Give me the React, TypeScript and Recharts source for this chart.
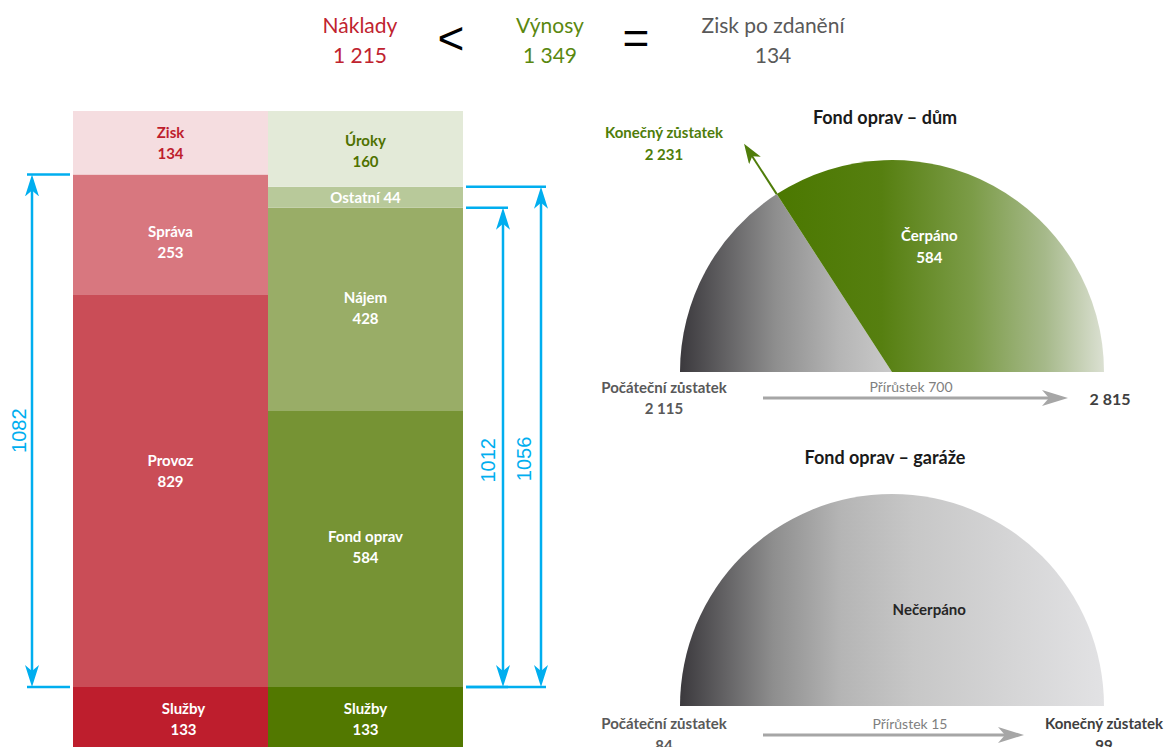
import { Bar, BarChart, Cell, LabelList, Pie, PieChart, ReferenceArea, XAxis, YAxis } from 'recharts';

const FONT = 'Lato, "Noto Sans", sans-serif';
const DIM_FONT = '"Liberation Sans", Arial, sans-serif';
const CYAN = '#00aeef';
const RAD = Math.PI / 180;

// header
const headerNames = ['Náklady', 'Výnosy', 'Zisk po zdanění'];
const headerValues = [1215, 1349, 134];
const headerColors = ['#c0232f', '#5a880f', '#595959'];
const headerSigns = ['<', '='];

// left: costs vs revenues, bottom segment first
const columns = ['Náklady', 'Výnosy'];
const costNames = ['Služby', 'Provoz', 'Správa', 'Zisk'];
const costValues = [133, 829, 253, 134];
const revenueNames = ['Služby', 'Fond oprav', 'Nájem', 'Ostatní', 'Úroky'];
const revenueValues = [133, 584, 428, 44, 160];

const costFills = ['#be1e2d', '#ca4d57', '#d8777f', '#f5dde0'];
const costInk = ['#fff', '#fff', '#fff', '#be1e2d'];
const revenueFills = ['#527800', '#769334', '#99ad67', '#b8c99a', '#e3ead8'];
const revenueInk = ['#fff', '#fff', '#fff', '#fff', '#4f7200'];
// label nudges (px) to sit where the original placed them
const costLabelDx = [13, 0, 0, 0];
const costLabelDy = [0, -20, 7, 0];
const revenueLabelDx = [0, 0, 0, 0, 0];
const revenueLabelDy = [0, -2, -2, 0, 2];

// dimension lines: column, first and last segment spanned
const dimColumn = [0, 1, 1];
const dimFirst = [1, 1, 1];
const dimLast = [2, 2, 3];

// gauges
const houseSliceNames = ['Zůstatek', 'Čerpáno'];
const houseSliceValues = [271, 584]; // grey wedge
const houseStart = 2115;
const houseGrowth = 700;
const houseEnd = 2231;
const houseTotal = 2815;

const garageSliceNames = ['Nečerpáno'];
const garageSliceValues = [99];
const garageStart = 84;
const garageGrowth = 15;
const garageEnd = 99;

const segNames = [costNames, revenueNames];
const segValues = [costValues, revenueValues];
const segFills = [costFills, revenueFills];
const segInk = [costInk, revenueInk];
const segDx = [costLabelDx, revenueLabelDx];
const segDy = [costLabelDy, revenueLabelDy];
const segCount = Math.max(...segValues.map(v => v.length));
const sum = (a: number[]) => a.reduce((s, v) => s + v, 0);
const total = Math.max(...segValues.map(sum));

const barData = columns.map((column, c) => {
  const row: Record<string, string | number> = { column };
  for (let i = 0; i < segCount; i++) row[`s${i}`] = segValues[c][i] ?? 0;
  return row;
});

const fmt = (n: number) => String(n).replace(/\B(?=(\d{3})+(?!\d))/g, ' ');

function Header() {
  const nameX = [360, 550, 773];
  const signX = [451, 636];
  return (
    <svg width={1171} height={80} style={{ position: 'absolute', left: 0, top: 0 }}>
      {headerNames.map((n, i) => (
        <g key={n} fill={headerColors[i]} fontFamily={FONT} fontSize={21} textAnchor="middle" dominantBaseline="central">
          <text x={nameX[i]} y={24}>{n}</text>
          <text x={nameX[i]} y={54}>{fmt(headerValues[i])}</text>
        </g>
      ))}
      {headerSigns.map((s, i) => (
        <text key={s} x={signX[i]} y={38} fontFamily={DIM_FONT} fontSize={46} textAnchor="middle" dominantBaseline="central" fill="#000">
          {s}
        </text>
      ))}
    </svg>
  );
}

// the LabelList reads the column name, so the label knows which stack it belongs to
function segmentLabel(props: any, seg: number) {
  const { x, y, width, height, value: column } = props;
  const c = columns.indexOf(String(column));
  const value = segValues[c]?.[seg];
  if (c < 0 || value === undefined || !height) return null;
  const name = segNames[c][seg];
  const cx = Number(x) + Number(width) / 2 + segDx[c][seg];
  const cy = Number(y) + Number(height) / 2 + segDy[c][seg];
  const common = {
    x: cx,
    textAnchor: 'middle' as const,
    dominantBaseline: 'central' as const,
    fill: segInk[c][seg],
    fontFamily: FONT,
    fontWeight: 700,
    fontSize: 15,
  };
  if (Math.abs(Number(height)) < 30) {
    return <text {...common} y={cy}>{`${name} ${value}`}</text>;
  }
  return (
    <g>
      <text {...common} y={cy - 10.5}>{name}</text>
      <text {...common} y={cy + 10.5}>{value}</text>
    </g>
  );
}

function DimensionShape(props: any) {
  const { x, y, width, height, k } = props;
  const gap = [41, 40, 78];
  const textGap = [13, 15, 17];
  const textShift = [0, 13, 22];
  const left = dimColumn[k] === 0;
  const dir = left ? -1 : 1;
  const edge = left ? x : x + width;
  const lineX = edge + dir * gap[k];
  const top = y;
  const bottom = y + height;
  const id = `dim-arrow-${k}`;
  const tx = lineX - textGap[k];
  const ty = (top + bottom) / 2 + textShift[k];
  const label = sum(segValues[dimColumn[k]].slice(dimFirst[k], dimLast[k] + 1));
  return (
    <g>
      <defs>
        <marker id={id} viewBox="0 0 22 14" refX={16} refY={7} markerWidth={22} markerHeight={14} markerUnits="userSpaceOnUse" orient="auto-start-reverse">
          <path d="M0,0 L22,7 L0,14 L6,7 Z" fill={CYAN} />
        </marker>
      </defs>
      <line x1={edge + dir * 3} x2={lineX + dir * 5} y1={top} y2={top} stroke={CYAN} strokeWidth={2.5} />
      <line x1={edge + dir * 3} x2={lineX + dir * 5} y1={bottom} y2={bottom} stroke={CYAN} strokeWidth={2.5} />
      <line x1={lineX} x2={lineX} y1={top + 6} y2={bottom - 6} stroke={CYAN} strokeWidth={2.5} markerStart={`url(#${id})`} markerEnd={`url(#${id})`} />
      <text x={tx} y={ty} fill={CYAN} fontFamily={DIM_FONT} fontSize={20} textAnchor="middle" dominantBaseline="central" transform={`rotate(-90 ${tx} ${ty})`}>
        {label}
      </text>
    </g>
  );
}

function BalanceChart() {
  return (
    <div style={{ position: 'absolute', left: 0, top: 0 }}>
      <BarChart width={560} height={760} data={barData} margin={{ top: 111, right: 97, bottom: 10, left: 73 }} barCategoryGap={0} barGap={0}>
        <XAxis dataKey="column" hide />
        <YAxis hide domain={[0, total]} />
        {Array.from({ length: segCount }, (_, i) => (
          <Bar key={i} dataKey={`s${i}`} stackId="balance" isAnimationActive={false}>
            {barData.map((_, c) => (
              <Cell key={c} fill={segFills[c][i] ?? 'none'} />
            ))}
            <LabelList dataKey="column" content={(p: any) => segmentLabel(p, i)} />
          </Bar>
        ))}
        {dimColumn.map((c, k) => {
          const base = sum(segValues[c].slice(0, dimFirst[k]));
          const top = base + sum(segValues[c].slice(dimFirst[k], dimLast[k] + 1));
          return <ReferenceArea key={k} y1={base} y2={top} ifOverflow="visible" shape={(p: any) => <DimensionShape {...p} k={k} />} />;
        })}
      </BarChart>
    </div>
  );
}

const GAUGE_LEFT = 580;
const CX = 312;
const CY = 272;
const R = 212;

const polar = (cx: number, cy: number, r: number, angle: number) => ({
  x: cx + r * Math.cos(angle * RAD),
  y: cy - r * Math.sin(angle * RAD),
});

function GreyArrowDefs({ id }: { id: string }) {
  return (
    <marker id={id} viewBox="0 0 26 16" refX={18} refY={8} markerWidth={26} markerHeight={16} markerUnits="userSpaceOnUse" orient="auto">
      <path d="M0,0 L26,8 L0,16 L7,8 Z" fill="#a6a6a6" />
    </marker>
  );
}

function houseLabel(props: any) {
  const { cx, cy, outerRadius, midAngle, startAngle, index } = props;
  if (index !== 1) return null;
  const p = polar(cx, cy, outerRadius * 0.62, midAngle + 12);
  const boundary = startAngle ?? 180 - (180 * houseSliceValues[0]) / sum(houseSliceValues);
  const a = polar(cx, cy, outerRadius, boundary);
  const b = polar(cx, cy, outerRadius + 54, boundary);
  return (
    <g>
      <text x={p.x} y={p.y - 11} textAnchor="middle" dominantBaseline="central" fill="#fff" fontFamily={FONT} fontWeight={700} fontSize={15}>
        {houseSliceNames[1]}
      </text>
      <text x={p.x} y={p.y + 11} textAnchor="middle" dominantBaseline="central" fill="#fff" fontFamily={FONT} fontWeight={700} fontSize={15}>
        {houseSliceValues[1]}
      </text>
      <line x1={a.x} y1={a.y} x2={b.x} y2={b.y} stroke="#4f7d0a" strokeWidth={2} markerEnd="url(#green-arrow)" />
    </g>
  );
}

function garageLabel(props: any) {
  const { cx, cy, outerRadius, midAngle, index } = props;
  const p = polar(cx, cy, outerRadius * 0.49, midAngle - 21);
  return (
    <text x={p.x} y={p.y} textAnchor="middle" dominantBaseline="central" fill="#262626" fontFamily={FONT} fontWeight={700} fontSize={15}>
      {garageSliceNames[index]}
    </text>
  );
}

const txt = (fill: string, size: number, weight = 700) => ({
  fill,
  fontSize: size,
  fontWeight: weight,
  fontFamily: FONT,
  textAnchor: 'middle' as const,
  dominantBaseline: 'central' as const,
});

function HouseGauge() {
  const data = houseSliceNames.map((name, i) => ({ name, value: houseSliceValues[i] }));
  return (
    <div style={{ position: 'absolute', left: GAUGE_LEFT, top: 100 }}>
      <PieChart width={591} height={330} margin={{ top: 0, right: 0, bottom: 0, left: 0 }}>
        <defs>
          <linearGradient id="house-grey" x1="0" y1="0" x2="1" y2="0">
            <stop offset="0" stopColor="#3b393d" />
            <stop offset="0.45" stopColor="#8e8e8e" />
            <stop offset="0.75" stopColor="#b5b5b5" />
            <stop offset="1" stopColor="#cacaca" />
          </linearGradient>
          <linearGradient id="house-green" x1="0" y1="0" x2="1" y2="0">
            <stop offset="0" stopColor="#4b7800" />
            <stop offset="0.32" stopColor="#567f10" />
            <stop offset="0.6" stopColor="#7c9c48" />
            <stop offset="0.82" stopColor="#a6b98a" />
            <stop offset="1" stopColor="#dbe0d2" />
          </linearGradient>
          <marker id="green-arrow" viewBox="0 0 20 14" refX={14} refY={7} markerWidth={20} markerHeight={14} markerUnits="userSpaceOnUse" orient="auto">
            <path d="M0,0 L20,7 L0,14 L5,7 Z" fill="#4f7d0a" />
          </marker>
          <GreyArrowDefs id="grey-arrow-house" />
        </defs>
        <Pie
          data={data}
          dataKey="value"
          nameKey="name"
          cx={CX}
          cy={CY}
          outerRadius={R}
          startAngle={180}
          endAngle={0}
          stroke="none"
          isAnimationActive={false}
          label={houseLabel}
          labelLine={false}
        >
          <Cell fill="url(#house-grey)" />
          <Cell fill="url(#house-green)" />
        </Pie>
        <text x={CX - 7} y={17} {...txt('#1a1a1a', 18)}>Fond oprav – dům</text>
        <text x={CX - 228} y={CY - 240} {...txt('#4f7d0a', 15)}>Konečný zůstatek</text>
        <text x={CX - 228} y={CY - 218} {...txt('#4f7d0a', 15)}>{fmt(houseEnd)}</text>
        <text x={CX - 228} y={CY + 15} {...txt('#595959', 15)}>Počáteční zůstatek</text>
        <text x={CX - 228} y={CY + 36} {...txt('#595959', 15)}>{fmt(houseStart)}</text>
        <text x={CX + 19} y={CY + 14} {...txt('#7f7f7f', 14, 400)}>{`Přírůstek ${houseGrowth}`}</text>
        <line x1={CX - 129} x2={CX + 168} y1={CY + 26} y2={CY + 26} stroke="#a6a6a6" strokeWidth={3} markerEnd="url(#grey-arrow-house)" />
        <text x={CX + 218} y={CY + 26} {...txt('#404040', 16)}>{fmt(houseTotal)}</text>
      </PieChart>
    </div>
  );
}

function GarageGauge() {
  const data = garageSliceNames.map((name, i) => ({ name, value: garageSliceValues[i] }));
  return (
    <div style={{ position: 'absolute', left: GAUGE_LEFT, top: 434 }}>
      <PieChart width={591} height={330} margin={{ top: 0, right: 0, bottom: 0, left: 0 }}>
        <defs>
          <linearGradient id="garage-grey" x1="0" y1="0" x2="1" y2="0">
            <stop offset="0" stopColor="#3b393d" />
            <stop offset="0.22" stopColor="#8e8e8e" />
            <stop offset="0.38" stopColor="#b5b5b5" />
            <stop offset="0.55" stopColor="#c7c7c7" />
            <stop offset="1" stopColor="#e2e2e4" />
          </linearGradient>
          <GreyArrowDefs id="grey-arrow-garage" />
        </defs>
        <Pie
          data={data}
          dataKey="value"
          nameKey="name"
          cx={CX}
          cy={CY}
          outerRadius={R}
          startAngle={180}
          endAngle={0}
          stroke="none"
          isAnimationActive={false}
          label={garageLabel}
          labelLine={false}
        >
          <Cell fill="url(#garage-grey)" />
        </Pie>
        <text x={CX - 7} y={23} {...txt('#1a1a1a', 18)}>Fond oprav – garáže</text>
        <text x={CX - 228} y={CY + 17} {...txt('#595959', 15)}>Počáteční zůstatek</text>
        <text x={CX - 228} y={CY + 39} {...txt('#595959', 15)}>{fmt(garageStart)}</text>
        <text x={CX + 18} y={CY + 17} {...txt('#7f7f7f', 14, 400)}>{`Přírůstek ${garageGrowth}`}</text>
        <line x1={CX - 129} x2={CX + 124} y1={CY + 29} y2={CY + 29} stroke="#a6a6a6" strokeWidth={3} markerEnd="url(#grey-arrow-garage)" />
        <text x={CX + 212} y={CY + 17} {...txt('#404040', 15)}>Konečný zůstatek</text>
        <text x={CX + 212} y={CY + 39} {...txt('#404040', 15)}>{fmt(garageEnd)}</text>
      </PieChart>
    </div>
  );
}

export default function App() {
  return (
    <div style={{ position: 'absolute', left: 0, top: 0, width: 1171, height: 747, overflow: 'hidden', background: '#fff', fontFamily: FONT }}>
      <Header />
      <BalanceChart />
      <HouseGauge />
      <GarageGauge />
    </div>
  );
}
